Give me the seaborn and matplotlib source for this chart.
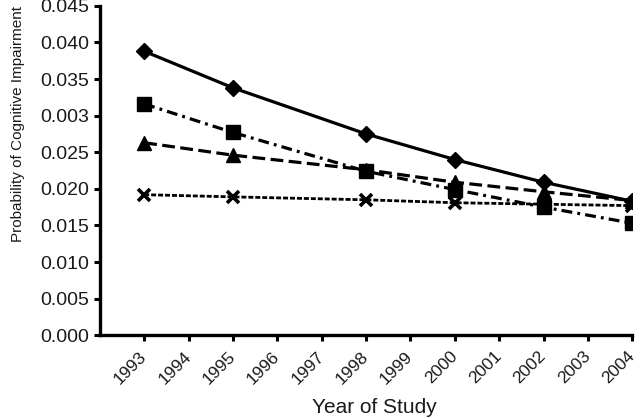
import pandas as pd
import seaborn as sns
import matplotlib.pyplot as plt

years = [1993, 1995, 1998, 2000, 2002, 2004]
diamond_vals = [0.0388, 0.0338, 0.0275, 0.0240, 0.0209, 0.0183]
square_vals = [0.0316, 0.0277, 0.0224, 0.0199, 0.0175, 0.0153]
triangle_vals = [0.0263, 0.0246, 0.0226, 0.0209, 0.0196, 0.0184]
cross_vals = [0.0192, 0.0189, 0.0185, 0.0181, 0.0179, 0.0177]

ytick_vals = [0.000, 0.005, 0.010, 0.015, 0.020, 0.025, 0.030, 0.035, 0.040, 0.045]
ytick_labels = ["0.000", "0.005", "0.010", "0.015", "0.020", "0.025", "0.003", "0.035", "0.040", "0.045"]
xtick_vals = list(range(1993, 2005))

series = {"diamond": diamond_vals, "square": square_vals,
          "triangle": triangle_vals, "cross": cross_vals}
df = pd.concat([pd.DataFrame({"year": years, "prob": v, "group": k}) for k, v in series.items()])

sns.set_style("ticks")
plt.rcParams["font.family"] = ["Liberation Sans", "DejaVu Sans"]

fig = plt.figure(figsize=(6.4, 4.19), dpi=100)
ax = fig.add_axes([0.156, 0.2, 0.832, 0.786])

styles = {
    "diamond": dict(ls="-", marker="D", ms=8.5, lw=2.3),
    "square": dict(ls=(0, (3.4, 1.6, 0.9, 1.6)), marker="s", ms=10, lw=2.3),
    "triangle": dict(ls=(0, (4, 1.7)), marker="^", ms=10.5, lw=2.3),
    "cross": dict(ls=(0, (1.8, 0.7)), marker="x", ms=9, mew=2.6, lw=2.0),
}
for name, kw in styles.items():
    sub = df[df["group"] == name]
    sns.lineplot(data=sub, x="year", y="prob", ax=ax, color="black", lw=kw["lw"],
                 linestyle=kw["ls"], marker=kw["marker"], markersize=kw["ms"],
                 markeredgewidth=kw.get("mew", 1), markeredgecolor="black", legend=False)

ax.set_xlim(1992, 2004)
ax.set_ylim(0, 0.045)
ax.set_yticks(ytick_vals)
ax.set_yticklabels(ytick_labels, fontsize=14)
ax.set_xticks(xtick_vals)
ax.set_xticklabels([str(y) for y in xtick_vals], rotation=45, ha="right", va="center",
                   rotation_mode="anchor", fontsize=12.5)
ax.tick_params(width=2.2, length=4.5, pad=3, color="black", labelcolor="#1a1a1a")
ax.tick_params(axis="x", pad=9)
for s in ["left", "bottom"]:
    ax.spines[s].set_linewidth(2.4)
    ax.spines[s].set_color("black")
sns.despine(ax=ax)
ax.set_xlabel("Year of Study", fontsize=15, color="#1a1a1a")
ax.set_ylabel("Probability of Cognitive Impairment", fontsize=11, color="#1a1a1a")
ax.yaxis.set_label_coords(-0.14, 0.64)
ax.xaxis.set_label_coords(0.515, -0.19)

fig.savefig("out.png", dpi=100)
